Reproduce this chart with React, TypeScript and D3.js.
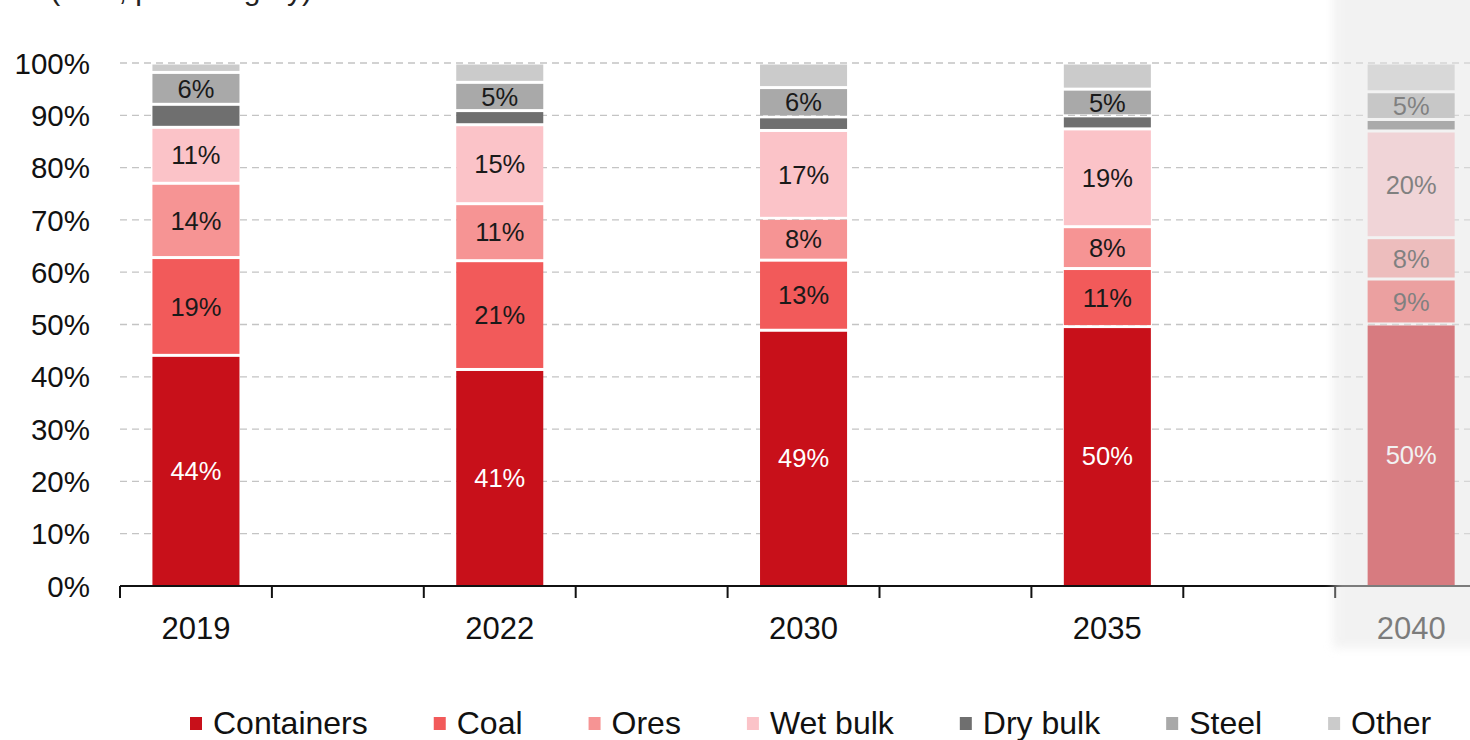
import React, { useEffect, useRef } from 'react';
import * as d3 from 'd3';

// chart values (percent share per year)
const years = ['2019', '2022', '2030', '2035', '2040'];
const seriesNames = ['Containers', 'Coal', 'Ores', 'Wet bulk', 'Dry bulk', 'Steel', 'Other'];
const containers = [44.1, 41.4, 48.9, 49.6, 50.1];
const coal = [18.7, 20.8, 13.4, 11.1, 8.6];
const ores = [14.2, 10.9, 8.0, 8.0, 7.9];
const wetBulk = [10.7, 15.1, 16.8, 18.7, 20.4];
const dryBulk = [4.4, 2.7, 2.6, 2.5, 2.2];
const steel = [6.1, 5.4, 5.6, 5.1, 5.3];
const other = [1.8, 3.7, 4.7, 5.0, 5.5];
const yTicks = [0, 10, 20, 30, 40, 50, 60, 70, 80, 90, 100];
const unlabeled = ['Dry bulk', 'Other'];
const titleText = '(in %, per category)';

const colors = ['#c8101a', '#f25a5a', '#f69494', '#fbc3c8', '#6f6f6f', '#a9a9a9', '#cbcbcb'];

const W = 1470;
const H = 740;
const FONT = '"Liberation Sans", Arial, Helvetica, sans-serif';

const App = () => {
  const ref = useRef<SVGSVGElement | null>(null);

  useEffect(() => {
    const svg = d3.select(ref.current);
    svg.selectAll('*').remove();

    const rows = years.map((yr, i) => ({
      year: yr,
      Containers: containers[i],
      Coal: coal[i],
      Ores: ores[i],
      'Wet bulk': wetBulk[i],
      'Dry bulk': dryBulk[i],
      Steel: steel[i],
      Other: other[i],
    }));

    const stacked = d3.stack<any>().keys(seriesNames)(rows);

    // each year sits in a slot followed by an empty slot
    const slots = years.flatMap((yr, i) => [yr, `gap${i}`]);
    const x = d3.scaleBand<string>().domain(slots).range([120, 120 + slots.length * 151.9]).padding(0);
    const y = d3.scaleLinear().domain([0, 100]).range([586, 63]);
    const barW = x.bandwidth() * 0.573;

    const defs = svg.append('defs');
    defs.append('filter').attr('id', 'soft').attr('x', '-20%').attr('y', '-5%').attr('width', '140%').attr('height', '110%')
      .append('feGaussianBlur').attr('stdDeviation', 5);

    // title, mostly cut off at the top edge
    svg.append('text')
      .attr('x', 312)
      .attr('y', 0)
      .attr('text-anchor', 'end')
      .style('font-family', FONT)
      .style('font-size', '30px')
      .attr('fill', '#222')
      .text(titleText);

    // gridlines
    svg.append('g')
      .selectAll('line')
      .data(yTicks.filter(t => t > 0))
      .join('line')
      .attr('x1', 120)
      .attr('x2', W)
      .attr('y1', d => y(d))
      .attr('y2', d => y(d))
      .attr('stroke', '#c4c4c4')
      .attr('stroke-width', 1.3)
      .attr('stroke-dasharray', '7,5');

    // y tick labels
    svg.append('g')
      .selectAll('text')
      .data(yTicks)
      .join('text')
      .attr('x', 90)
      .attr('y', d => y(d))
      .attr('dy', '0.36em')
      .attr('text-anchor', 'end')
      .style('font-family', FONT)
      .style('font-size', '29.5px')
      .attr('fill', '#111')
      .text(d => `${d}%`);

    // bars
    const barG = svg.append('g');
    stacked.forEach((layer, si) => {
      const key = seriesNames[si];
      layer.forEach((seg, yi) => {
        const yr = years[yi];
        const x0 = (x(yr) as number) + (x.bandwidth() - barW) / 2;
        const top = y(seg[1]) + 1.5;
        const bottom = si === 0 ? y(0) : y(seg[0]) - 1.5;
        barG.append('rect')
          .attr('x', x0)
          .attr('y', top)
          .attr('width', barW)
          .attr('height', Math.max(0, bottom - top))
          .attr('fill', colors[si]);
        if (!unlabeled.includes(key)) {
          barG.append('text')
            .attr('x', x0 + barW / 2)
            .attr('y', (y(seg[0]) + y(seg[1])) / 2)
            .attr('dy', '0.36em')
            .attr('text-anchor', 'middle')
            .style('font-family', FONT)
            .style('font-size', '25.5px')
            .attr('fill', si === 0 ? '#ffffff' : '#1a1a1a')
            .text(`${Math.round(seg[1] - seg[0])}%`);
        }
      });
    });

    // x axis
    svg.append('line')
      .attr('x1', 120)
      .attr('x2', W)
      .attr('y1', y(0))
      .attr('y2', y(0))
      .attr('stroke', '#111')
      .attr('stroke-width', 2);

    svg.append('g')
      .selectAll('line')
      .data(slots.filter(s => (x(s) as number) < W))
      .join('line')
      .attr('x1', d => x(d) as number)
      .attr('x2', d => x(d) as number)
      .attr('y1', y(0))
      .attr('y2', y(0) + 12)
      .attr('stroke', '#111')
      .attr('stroke-width', 2);

    svg.append('g')
      .selectAll('text')
      .data(years)
      .join('text')
      .attr('x', d => (x(d) as number) + x.bandwidth() / 2)
      .attr('y', 639)
      .attr('text-anchor', 'middle')
      .style('font-family', FONT)
      .style('font-size', '31px')
      .attr('fill', '#111')
      .text(d => d);

    // forecast column shading
    const lastX = x(years[years.length - 1]) as number;
    svg.append('rect')
      .attr('x', lastX - 2)
      .attr('y', -20)
      .attr('width', W - lastX + 30)
      .attr('height', 668)
      .attr('fill', '#e6e6e6')
      .attr('opacity', 0.5)
      .attr('filter', 'url(#soft)');

    // legend
    const leg = svg.append('g');
    let lx = 190;
    seriesNames.forEach((name, i) => {
      leg.append('rect')
        .attr('x', lx)
        .attr('y', 717)
        .attr('width', 12)
        .attr('height', 13)
        .attr('fill', colors[i]);
      const t = leg.append('text')
        .attr('x', lx + 23)
        .attr('y', 734)
        .style('font-family', FONT)
        .style('font-size', '32px')
        .attr('fill', '#111')
        .text(name);
      const len = (t.node() as SVGTextElement).getComputedTextLength();
      lx += 23 + len + 66;
    });
  }, []);

  return (
    <svg
      ref={ref}
      width={W}
      height={H}
      style={{ position: 'absolute', left: 0, top: 0, background: '#fff' }}
    />
  );
};

export default App;
